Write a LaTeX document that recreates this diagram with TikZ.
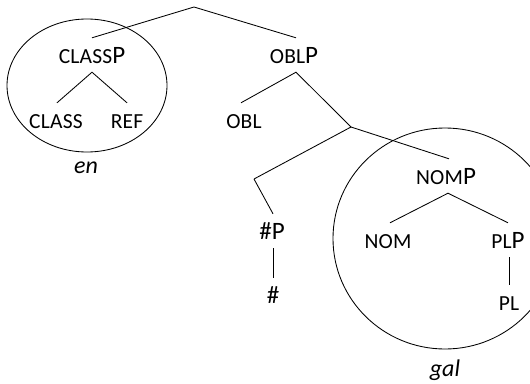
\documentclass[tikz,border=0pt]{standalone}
\usepackage{fontspec}
\setmainfont{Carlito}
\newfontfamily\scfont[LetterSpace=1]{Carlito}
\newcommand{\sml}[1]{{\fontsize{21.5}{24}\scfont #1}}
\begin{document}
\begin{tikzpicture}[x=1pt,y=-1pt,
  lbl/.style={inner sep=0pt, minimum height=34pt, text height=16pt, text depth=0pt,
    font=\fontsize{25}{28}\selectfont},
  gloss/.style={inner sep=0pt, font=\fontsize{24}{28}\selectfont\itshape},
  branchline/.style={draw=black, line width=0.85pt},
  domainring/.style={draw=black, line width=0.85pt}]
\clip (0,0) rectangle (530,383);
% tree labels
\node[lbl] (classp) at (92,55) {\sml{CLASS}P};
\node[lbl] (class) at (56,120) {\sml{CLASS}};
\node[lbl] (ref) at (127,120) {\sml{REF}};
\node[lbl] (oblp) at (294,55) {\sml{OBL}P};
\node[lbl] (obl) at (244,120) {\sml{OBL}};
\node[lbl] (hashp) at (272,231) {\#P};
\node[lbl] (hash) at (273,295) {\#};
\node[lbl] (nomp) at (446,176) {\sml{NOM}P};
\node[lbl] (nom) at (388,240) {\sml{NOM}};
\node[lbl] (plp) at (508,240) {\sml{PL}P};
\node[lbl] (pl) at (509,302) {\sml{PL}};
\node[gloss] (en) at (86,168) {en};
\node[gloss] (gal) at (445,370) {gal};
% branching points
\coordinate (root) at (194,7);
\coordinate (b1) at (351,127);
\coordinate (b2) at (254,179);
% connectors
\draw[branchline] (classp.north) -- (root) -- ([xshift=2pt]oblp.north);
\draw[branchline] ([xshift=1pt]class.north) -- (classp.south) -- (ref.north);
\draw[branchline] ([xshift=-3pt]obl.north) -- ([xshift=2pt]oblp.south) -- (b1);
\draw[branchline] (b2) -- (b1) -- ([xshift=3pt]nomp.north);
\draw[branchline] (b2) -- ([xshift=1pt]hashp.north);
\draw[branchline] ([xshift=1pt]hashp.south) -- (hash.north);
\draw[branchline] ([xshift=2pt]nom.north) -- ([xshift=2pt]nomp.south) -- (plp.north);
\draw[branchline] ([xshift=1pt]plp.south) -- (pl.north);
% domains
\draw[domainring] (87,85.5) ellipse [x radius=80, y radius=66.5];
\draw[domainring] (445,238.5) ellipse [x radius=112, y radius=110.5];
\end{tikzpicture}
\end{document}
